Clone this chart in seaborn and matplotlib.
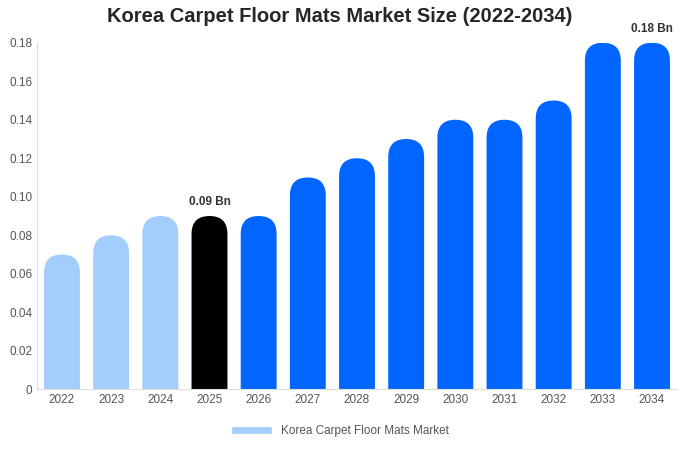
import matplotlib
matplotlib.use("Agg")
import matplotlib.pyplot as plt
import seaborn as sns
import pandas as pd
from matplotlib.patches import FancyBboxPatch, Patch

years = ["2022","2023","2024","2025","2026","2027","2028","2029","2030","2031","2032","2033","2034"]
values = [0.07,0.08,0.09,0.09,0.09,0.11,0.12,0.13,0.14,0.14,0.15,0.18,0.18]
colors = ["#a3cdfc"]*3 + ["#000000"] + ["#0066ff"]*9
series_name = "Korea Carpet Floor Mats Market"

sns.set_style("white")
plt.rcParams['font.family'] = ['Liberation Sans', 'DejaVu Sans']
fig = plt.figure(figsize=(6.8, 4.5), dpi=100)
ax = fig.add_axes([0.055, 0.135, 0.94, 0.77])
df = pd.DataFrame({"year": years, "value": values})
sns.barplot(data=df, x="year", y="value", ax=ax, width=0.73, color="#a3cdfc")
ax.set_ylim(0, 0.18)
ax.set_xlim(-0.5, len(years) - 0.5)
fig.canvas.draw()
# pixel scale
p0 = ax.transData.transform((0, 0)); p1 = ax.transData.transform((1, 1))
sx = p1[0] - p0[0]; sy = p1[1] - p0[1]
bars = list(ax.patches)
for b, c in zip(bars, colors):
    x, w, h = b.get_x(), b.get_width(), b.get_height()
    b.remove()
    r = w / 2
    aspect = sx / sy
    fb = FancyBboxPatch((x + r, -0.05), 0, h + 0.05 - r * aspect,
                        boxstyle=f"round,pad={r}", mutation_aspect=aspect,
                        facecolor=c, edgecolor="none", clip_on=True)
    ax.add_patch(fb)
    fb.set_clip_path(ax.patch)

ax.text(3, 0.09 + 0.004, "0.09 Bn", ha="center", va="bottom", fontsize=8.5, fontweight="bold", color="#333333")
ax.text(12, 0.18 + 0.004, "0.18 Bn", ha="center", va="bottom", fontsize=8.5, fontweight="bold", color="#333333", clip_on=False)

ax.set_yticks([0,0.02,0.04,0.06,0.08,0.10,0.12,0.14,0.16,0.18])
ax.set_yticklabels(["0","0.02","0.04","0.06","0.08","0.10","0.12","0.14","0.16","0.18"])
ax.tick_params(axis="both", labelsize=8.5, colors="#555555", length=0)
ax.set_xlabel(""); ax.set_ylabel("")
for s in ["top", "right"]:
    ax.spines[s].set_visible(False)
ax.spines["left"].set_color("#dddddd")
ax.spines["bottom"].set_color("#dddddd")
fig.suptitle("Korea Carpet Floor Mats Market Size (2022-2034)", fontsize=14.5, fontweight="bold", y=0.985, x=0.5)
fig.legend(handles=[Patch(facecolor="#a3cdfc", label=series_name)], loc="lower center",
           bbox_to_anchor=(0.5, 0.005), frameon=False, fontsize=8.5, handlelength=3.5,
           labelcolor="#555555")
fig.savefig("out.png", dpi=100)
